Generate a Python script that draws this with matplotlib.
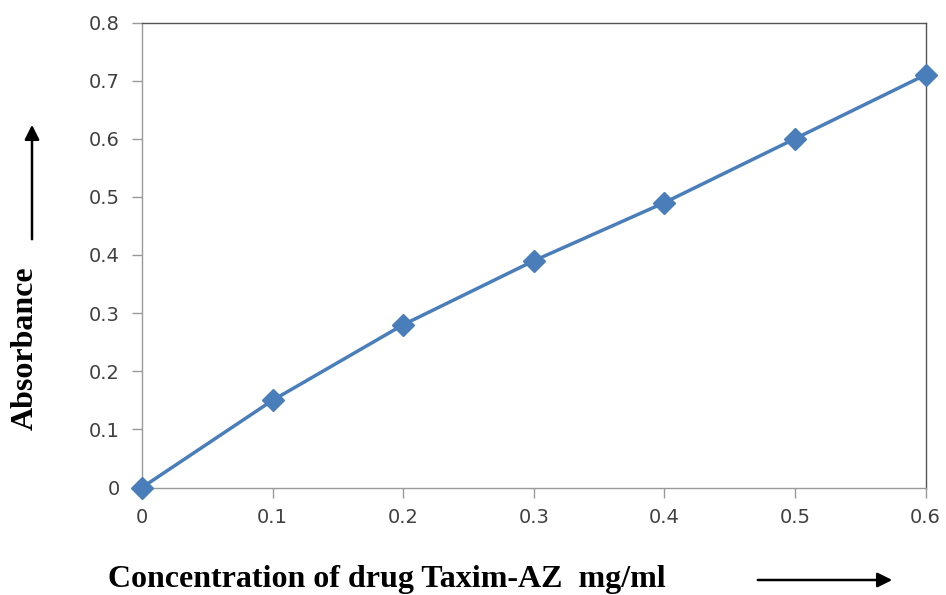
import numpy as np
import matplotlib
matplotlib.use("Agg")
import matplotlib.pyplot as plt

conc = [0, 0.1, 0.2, 0.3, 0.4, 0.5, 0.6]
absorbance = [0, 0.15, 0.28, 0.39, 0.49, 0.60, 0.71]
xticks = [0, 0.1, 0.2, 0.3, 0.4, 0.5, 0.6]
yticks = [0, 0.1, 0.2, 0.3, 0.4, 0.5, 0.6, 0.7, 0.8]

fig = plt.figure(figsize=(9.46, 5.95), dpi=100)
ax = fig.add_axes([142 / 946, 1 - 487.5 / 595, 783.5 / 946, 465 / 595])

ax.plot(conc, absorbance, color="#4a7ebb", linewidth=2.5,
        marker="D", markersize=11, zorder=3, clip_on=False)

ax.set_xlim(0, 0.6)
ax.set_ylim(0, 0.8)
ax.set_xticks(xticks)
ax.set_xticklabels(["0", "0.1", "0.2", "0.3", "0.4", "0.5", "0.6"])
ax.set_yticks(yticks)
ax.set_yticklabels(["0", "0.1", "0.2", "0.3", "0.4", "0.5", "0.6", "0.7", "0.8"])

for side in ["left", "bottom"]:
    ax.spines[side].set_color("#9a9a9a")
for side in ["top", "right"]:
    ax.spines[side].set_color("#555555")
for s in ax.spines.values():
    s.set_linewidth(1.0)

ax.tick_params(axis="both", direction="out", length=7, width=1,
               color="#9a9a9a", labelsize=14, labelcolor="#404040")
ax.tick_params(axis="x", pad=8)
ax.tick_params(axis="y", pad=9)

serif = {"family": "Liberation Serif", "weight": "bold", "size": 23}
fig.text(108 / 946, 1 - 580 / 595, "Concentration of drug Taxim-AZ  mg/ml",
         ha="left", va="center", fontdict=serif)
fig.text(25 / 946, 1 - 348 / 595, "Absorbance", rotation=90,
         ha="center", va="center", fontdict=serif)

# arrows
fig.add_artist(matplotlib.patches.FancyArrowPatch(
    (755 / 946, 1 - 580 / 595), (895 / 946, 1 - 580 / 595),
    transform=fig.transFigure, arrowstyle="-|>", mutation_scale=22,
    color="black", linewidth=1.8))
fig.add_artist(matplotlib.patches.FancyArrowPatch(
    (32 / 946, 1 - 242 / 595), (32 / 946, 1 - 122 / 595),
    transform=fig.transFigure, arrowstyle="-|>", mutation_scale=22,
    color="black", linewidth=1.8))

fig.savefig("out.png", dpi=100)
